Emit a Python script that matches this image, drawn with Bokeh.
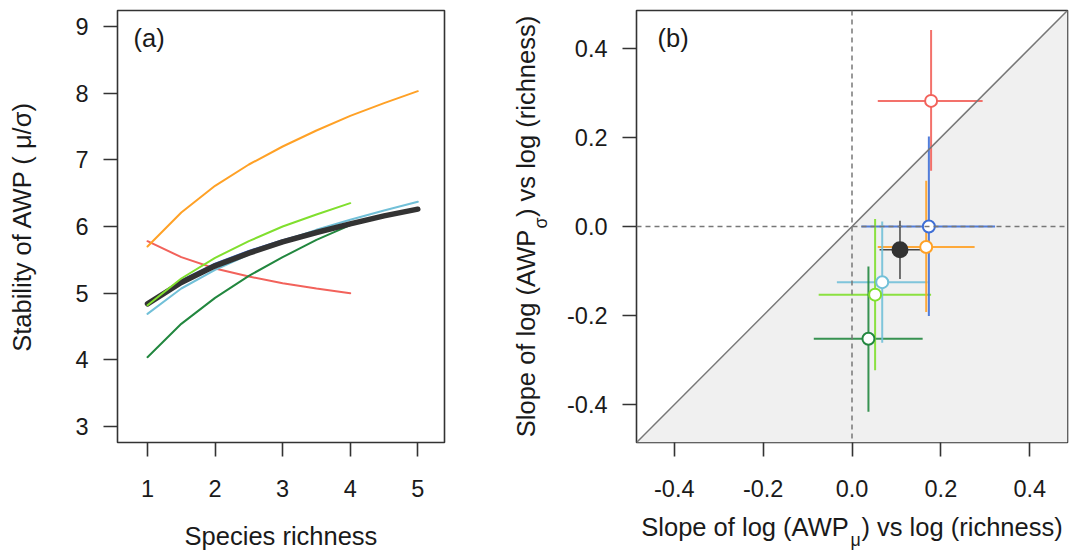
import math
from bokeh.plotting import figure
from bokeh.models import Label, FixedTicker, Range1d, Slope, Span, ColumnDataSource
from bokeh.layouts import row
from bokeh.embed import file_html
from bokeh.resources import INLINE

FONT = "Liberation Sans"
TICK_FS = 23.5
TITLE_FS = 25.5
TXT = "#1a1a1a"

# ---------------- Panel (a) data: stability vs species richness ----------------
richness = [1, 1.5, 2, 2.5, 3, 3.5, 4, 4.5, 5]
stab_red = [5.78, 5.54, 5.37, 5.25, 5.15, 5.07, 5.00]
stab_orange = [5.70, 6.21, 6.61, 6.93, 7.20, 7.44, 7.66, 7.85, 8.03]
stab_darkgreen = [4.04, 4.54, 4.93, 5.26, 5.54, 5.80, 6.02]
stab_blue = [4.83, 5.19, 5.44, 5.63, 5.79, 5.93, 6.05]
stab_sky = [4.69, 5.07, 5.35, 5.58, 5.78, 5.95, 6.10, 6.24, 6.37]
stab_all = [4.84, 5.16, 5.41, 5.60, 5.77, 5.91, 6.04, 6.16, 6.26]
stab_lightgreen = [4.82, 5.22, 5.53, 5.78, 6.00, 6.18, 6.35]

a_xticks = [1, 2, 3, 4, 5]
a_yticks = [3, 4, 5, 6, 7, 8, 9]

# ---------------- Panel (b) data: slopes ----------------
groups = ["red", "blue", "orange", "all", "sky", "lightgreen", "darkgreen"]
slope_mu = [0.178, 0.173, 0.167, 0.108, 0.068, 0.052, 0.037]
slope_mu_lo = [0.058, 0.021, 0.058, 0.062, -0.034, -0.075, -0.086]
slope_mu_hi = [0.294, 0.322, 0.276, 0.157, 0.170, 0.178, 0.159]
slope_sigma = [0.282, 0.000, -0.046, -0.052, -0.125, -0.153, -0.252]
slope_sigma_lo = [0.125, -0.201, -0.192, -0.118, -0.261, -0.323, -0.416]
slope_sigma_hi = [0.441, 0.202, 0.103, 0.013, 0.011, 0.017, -0.090]
b_ticks = [-0.4, -0.2, 0.0, 0.2, 0.4]
b_tick_labels = ["-0.4", "-0.2", "0.0", "0.2", "0.4"]

COL = {
    "red": "#F2625B",
    "orange": "#FFA126",
    "blue": "#3F6FD6",
    "sky": "#72C0D8",
    "lightgreen": "#80DF2E",
    "darkgreen": "#22873F",
    "all": "#333333",
}

# Arial / Liberation Sans advance widths (per 1000 em), used to place subscripts
W = {"S": 667, "l": 222, "o": 556, "p": 556, "e": 556, " ": 278, "f": 278, "g": 556,
     "(": 333, ")": 333, "A": 667, "W": 944, "P": 667, "v": 500, "s": 500, "r": 333,
     "i": 222, "c": 500, "h": 556, "n": 556, "μ": 576, "σ": 571, "\u2002": 500}


def tw(s, fs):
    return sum(W.get(ch, 556) for ch in s) / 1000.0 * fs


def style_axes(p):
    p.grid.visible = False
    p.outline_line_color = "#333333"
    p.outline_line_width = 1.6
    for ax in (p.xaxis[0], p.yaxis[0]):
        ax.axis_line_color = None
        ax.major_tick_out = 14
        ax.major_tick_in = 0
        ax.major_tick_line_color = "#333333"
        ax.major_tick_line_width = 1.6
        ax.minor_tick_line_color = None
        ax.major_label_text_font = FONT
        ax.major_label_text_font_size = f"{TICK_FS}px"
        ax.major_label_text_color = TXT
        ax.axis_label_text_font = FONT
        ax.axis_label_text_font_size = f"{TITLE_FS}px"
        ax.axis_label_text_font_style = "normal"
        ax.axis_label_text_color = TXT
    p.xaxis.major_label_standoff = 23
    p.yaxis.major_label_standoff = 15


FH = 432  # frame height

# ---------------- Panel (a) ----------------
AW = 327
pa = figure(width=474, height=554, x_range=Range1d(0.556, 5.395), y_range=Range1d(2.76, 9.24),
            output_backend="svg", toolbar_location=None,
            min_border_left=117, min_border_right=30, min_border_top=10, min_border_bottom=112)
style_axes(pa)
pa.xaxis.ticker = FixedTicker(ticks=a_xticks)
pa.yaxis.ticker = FixedTicker(ticks=a_yticks)
pa.xaxis.axis_label = "Species richness"
pa.xaxis.axis_label_standoff = 22
pa.yaxis.axis_label = "Stability of AWP ( μ/σ)"
pa.yaxis.axis_label_standoff = 36

curves = [
    (stab_red, "red", 2),
    (stab_orange, "orange", 2),
    (stab_darkgreen, "darkgreen", 2),
    (stab_blue, "blue", 2.5),
    (stab_sky, "sky", 2),
    (stab_all, "all", 5.5),
    (stab_lightgreen, "lightgreen", 2),
]
for vals, key, lw in curves:
    pa.line(richness[:len(vals)], vals, line_color=COL[key], line_width=lw, line_cap="round")

pa.add_layout(Label(x=16, y=FH - 27, x_units="screen", y_units="screen", text="(a)",
                    text_font=FONT, text_font_size=f"{TITLE_FS}px", text_color=TXT,
                    text_align="left", text_baseline="alphabetic"))

# ---------------- Panel (b) ----------------
BW = 431
B_LO, B_HI = -0.485, 0.485
pb = figure(width=596, height=554, x_range=Range1d(B_LO, B_HI), y_range=Range1d(B_LO, B_HI),
            output_backend="svg", toolbar_location=None,
            min_border_left=162, min_border_right=3, min_border_top=10, min_border_bottom=112)
style_axes(pb)
pb.xaxis.ticker = FixedTicker(ticks=b_ticks)
pb.yaxis.ticker = FixedTicker(ticks=b_ticks)
overrides = {t: l for t, l in zip(b_ticks, b_tick_labels)}
pb.xaxis.major_label_overrides = overrides
pb.yaxis.major_label_overrides = overrides

P1 = "Slope of log (AWP"
GAP = "\u2002"
P3 = ") vs log (richness)"
pb.xaxis.axis_label = P1 + GAP + P3
pb.xaxis.axis_label_standoff = 13
pb.yaxis.axis_label = P1 + GAP + P3
pb.yaxis.axis_label_standoff = 24

# shaded region below the 1:1 line
pb.varea(x=[B_LO, B_HI], y1=[B_LO, B_LO], y2=[B_LO, B_HI], fill_color="#F0F0F0")
pb.add_layout(Slope(gradient=1, y_intercept=0, line_color="#777777", line_width=1.5))
pb.add_layout(Span(location=0, dimension="height", line_color="#777777", line_width=1.5,
                   line_dash="5 4"))
pb.add_layout(Span(location=0, dimension="width", line_color="#777777", line_width=1.5,
                   line_dash="5 4"))

cols = [COL[g] for g in groups]
bar_w = [1.5 if g == "all" else 2 for g in groups]
src = ColumnDataSource(dict(
    mu=slope_mu, mu_lo=slope_mu_lo, mu_hi=slope_mu_hi,
    sg=slope_sigma, sg_lo=slope_sigma_lo, sg_hi=slope_sigma_hi,
    col=cols, bw=bar_w,
    fill=["#333333" if g == "all" else "white" for g in groups],
    size=[15 if g == "all" else 12 for g in groups],
))
pb.segment(x0="mu_lo", x1="mu_hi", y0="sg", y1="sg", source=src, line_color="col",
           line_width="bw", line_alpha=0.9)
pb.segment(x0="mu", x1="mu", y0="sg_lo", y1="sg_hi", source=src, line_color="col",
           line_width="bw", line_alpha=0.9)
pb.scatter(x="mu", y="sg", source=src, marker="circle", size="size", fill_color="fill",
           line_color="col", line_width=2)

pb.add_layout(Label(x=21, y=FH - 27, x_units="screen", y_units="screen", text="(b)",
                    text_font=FONT, text_font_size=f"{TITLE_FS}px", text_color=TXT,
                    text_align="left", text_baseline="alphabetic"))

# subscripts placed in the gaps of the axis titles (data units of panel b)
SUB_FS = round(TITLE_FS * 0.7, 1)
span = B_HI - B_LO
total = tw(P1 + GAP + P3, TITLE_FS)
gap_c = tw(P1, TITLE_FS) + tw(GAP, TITLE_FS) / 2
# x title: mu (centre of glyph)
cx = BW / 2 - total / 2 + gap_c
sub_x = Label(x=B_LO + cx / BW * span, y=B_LO - 97 / FH * span,
              text="μ", text_font=FONT, text_font_size=f"{SUB_FS}px", text_color=TXT,
              text_align="center", text_baseline="alphabetic")
# y title: sigma (rotated, centred)
cy = FH / 2 - total / 2 + gap_c
sub_y = Label(x=B_LO - 96 / BW * span, y=B_LO + cy / FH * span,
              text="σ", text_font=FONT, text_font_size=f"{SUB_FS}px", text_color=TXT,
              text_align="center", text_baseline="middle", angle=math.pi / 2)
pb.add_layout(sub_y, "left")
pb.add_layout(sub_x, "left")

layout = row(pa, pb)
open("out.html", "w").write(file_html(layout, INLINE))
